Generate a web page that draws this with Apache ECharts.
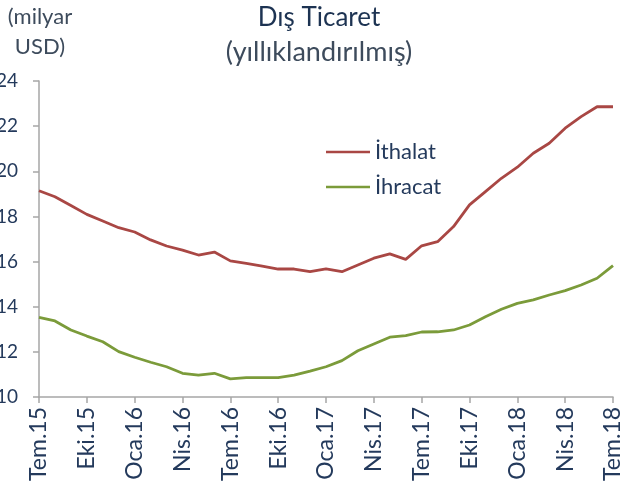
<!DOCTYPE html>
<html>
<head>
<meta charset="utf-8">
<script src="https://cdn.jsdelivr.net/npm/echarts@6/dist/echarts.min.js"></script>
<style>
  html, body { margin: 0; padding: 0; background: #fff; }
  #main { width: 624px; height: 492px; }
</style>
</head>
<body>
<div id="main"></div>
<script>
// aylar: Tem.15 - Tem.18
var months = [
  "Tem.15", "Ağu.15", "Eyl.15", "Eki.15", "Kas.15", "Ara.15",
  "Oca.16", "Şub.16", "Mar.16", "Nis.16", "May.16", "Haz.16",
  "Tem.16", "Ağu.16", "Eyl.16", "Eki.16", "Kas.16", "Ara.16",
  "Oca.17", "Şub.17", "Mar.17", "Nis.17", "May.17", "Haz.17",
  "Tem.17", "Ağu.17", "Eyl.17", "Eki.17", "Kas.17", "Ara.17",
  "Oca.18", "Şub.18", "Mar.18", "Nis.18", "May.18", "Haz.18",
  "Tem.18"
];

// milyar USD, yıllıklandırılmış
var ithalat = [
  191.4, 188.7, 184.8, 180.9, 178.0, 175.0,
  173.1, 169.6, 166.9, 165.1, 162.9, 164.2,
  160.3, 159.2, 158.0, 156.7, 156.7, 155.5,
  156.8, 155.5, 158.5, 161.5, 163.4, 161.0,
  167.0, 168.8, 175.5, 185.1, 191.0, 196.9,
  201.8, 208.0, 212.4, 219.1, 224.2, 228.6,
  228.6
];
var ihracat = [
  135.3, 133.7, 129.7, 127.0, 124.5, 120.1,
  117.6, 115.4, 113.4, 110.5, 109.7, 110.5,
  108.0, 108.6, 108.6, 108.6, 109.7, 111.5,
  113.4, 116.1, 120.5, 123.5, 126.5, 127.2,
  128.8, 128.9, 129.7, 131.9, 135.6, 138.9,
  141.5, 143.0, 145.2, 147.1, 149.6, 152.6,
  158.2
];

var yMin = 100, yMax = 240, yStep = 20;

var textColor = "#243a5c";
var axisColor = "#a6a6a6";
var font = "Lato, 'Noto Sans', sans-serif";

var myChart = echarts.init(document.getElementById("main"));
var option = {
  animation: false,
  textStyle: { fontFamily: font },
  title: {
    text: "Dış Ticaret",
    subtext: "(yıllıklandırılmış)",
    left: 319,
    top: 5,
    textAlign: "center",
    itemGap: 8,
    padding: 0,
    textStyle: { color: "#1d3352", fontSize: 26, fontWeight: "normal", fontFamily: font },
    subtextStyle: { color: "#3d4b5c", fontSize: 27, fontFamily: font },
  },
  // birim etiketi (sol üst)
  graphic: [
    {
      type: "text",
      x: 40,
      y: 6,
      style: { text: "(milyar", fill: "#3d4b5c", font: "22px " + font, textAlign: "center" },
    },
    {
      type: "text",
      x: 40,
      y: 36,
      style: { text: "USD)", fill: "#3d4b5c", font: "22px " + font, textAlign: "center" },
    },
  ],
  color: ["#a94744", "#7b9b3a"],
  legend: {
    orient: "vertical",
    left: 326,
    top: 141,
    padding: 0,
    itemWidth: 44,
    itemHeight: 14,
    itemGap: 13,
    data: [
      { name: "İthalat", icon: "path://M0,6 L44,6 L44,8.5 L0,8.5 Z" },
      { name: "İhracat", icon: "path://M0,6 L44,6 L44,8.5 L0,8.5 Z" },
    ],
    textStyle: { color: textColor, fontSize: 22 },
  },
  grid: {
    left: 39,
    right: 11,
    top: 81,
    bottom: 95,
    containLabel: false,
    outerBoundsMode: "none",
  },
  xAxis: {
    type: "category",
    boundaryGap: false,
    data: months,
    axisLine: { lineStyle: { color: axisColor, width: 1.5 } },
    axisTick: { show: true, interval: 2, length: 6, lineStyle: { color: axisColor, width: 1.5 } },
    axisLabel: {
      interval: 2,
      rotate: 90,
      margin: 10,
      color: textColor,
      fontSize: 23,
    },
  },
  yAxis: {
    type: "value",
    min: yMin,
    max: yMax,
    interval: yStep,
    splitLine: { show: false },
    axisLine: { show: true, lineStyle: { color: axisColor, width: 1.5 } },
    axisTick: { show: true, length: 6, lineStyle: { color: axisColor, width: 1.5 } },
    axisLabel: {
      margin: 21,
      color: textColor,
      fontSize: 19,
      // etiketler soldan kesik görünüyor: 24, 22 ...
      formatter: function (v) { return String(v / 10); },
    },
  },
  series: [
    {
      name: "İthalat",
      type: "line",
      data: ithalat,
      symbol: "none",
      lineStyle: { width: 2.8, color: "#a94744" },
    },
    {
      name: "İhracat",
      type: "line",
      data: ihracat,
      symbol: "none",
      lineStyle: { width: 2.8, color: "#7b9b3a" },
    },
  ],
};
myChart.setOption(option);
</script>
</body>
</html>
